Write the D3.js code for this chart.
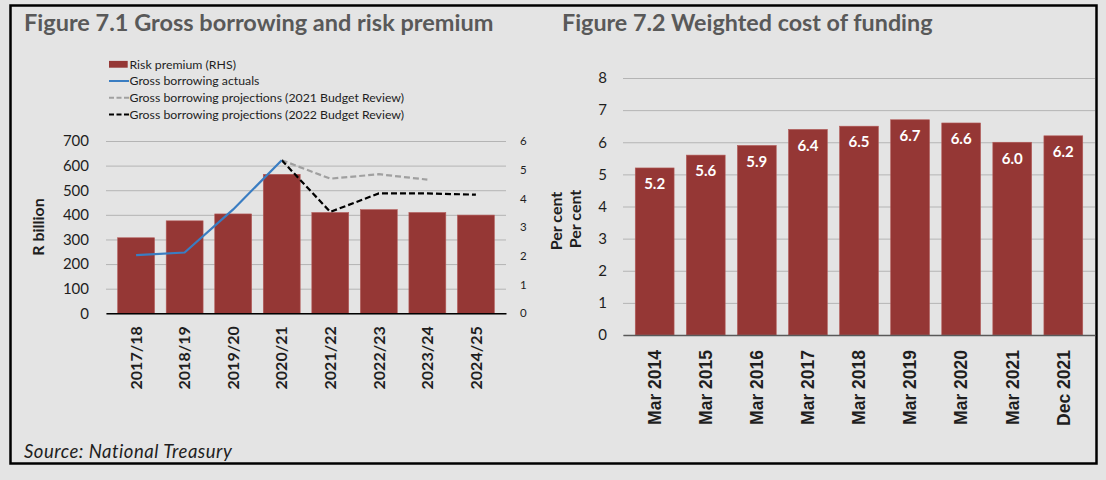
<!DOCTYPE html>
<html>
<head>
<meta charset="utf-8">
<script src="https://cdn.jsdelivr.net/npm/d3@7"></script>
<style>
  body { margin: 0; background: #e4e4e4; }
  svg { display: block; font-family: Lato, 'Open Sans', sans-serif; }
</style>
</head>
<body>
<div class="charts"></div>
<script>
// Figure 7.1 data
const years = ['2017/18', '2018/19', '2019/20', '2020/21', '2021/22', '2022/23', '2023/24', '2024/25'];
const riskPremium = [2.63, 3.22, 3.46, 4.84, 3.51, 3.61, 3.51, 3.42];
const actualYears = ['2017/18', '2018/19', '2019/20', '2020/21'];
const borrowingActuals = [236, 247, 422, 622];
const review2021Years = ['2020/21', '2021/22', '2022/23', '2023/24'];
const borrowing2021Review = [622, 547, 565, 543];
const review2022Years = ['2020/21', '2021/22', '2022/23', '2023/24', '2024/25'];
const borrowing2022Review = [622, 412, 487, 487, 482];
const billionTicks = [0, 100, 200, 300, 400, 500, 600, 700];
const premiumTicks = [0, 1, 2, 3, 4, 5, 6];

// Figure 7.2 data
const fundingDates = ['Mar 2014', 'Mar 2015', 'Mar 2016', 'Mar 2017', 'Mar 2018', 'Mar 2019', 'Mar 2020', 'Mar 2021', 'Dec 2021'];
const fundingCost = [5.2, 5.6, 5.9, 6.4, 6.5, 6.7, 6.6, 6.0, 6.2];
const fundingTicks = [0, 1, 2, 3, 4, 5, 6, 7, 8];

const containerWidth = 1106;
const containerHeight = 480;

const barColor = '#953735';
const gridColor = '#b4b4b4';
const textColor = '#1e1e1e';

const svg = d3
  .select('.charts')
  .append('svg')
  .attr('width', containerWidth)
  .attr('height', containerHeight);

svg
  .append('rect')
  .attr('x', 10.5)
  .attr('y', 5.5)
  .attr('width', 1086)
  .attr('height', 458)
  .attr('fill', 'none')
  .attr('stroke', '#000')
  .attr('stroke-width', 2.5);

// titles
svg
  .append('text')
  .attr('x', 24)
  .attr('y', 31)
  .style('font-size', '23.5px')
  .style('font-weight', '700')
  .attr('fill', '#595959')
  .text('Figure 7.1 Gross borrowing and risk premium');
svg
  .append('text')
  .attr('x', 562)
  .attr('y', 31)
  .style('font-size', '23.3px')
  .style('font-weight', '700')
  .attr('fill', '#595959')
  .text('Figure 7.2 Weighted cost of funding');

svg
  .append('text')
  .attr('x', 24)
  .attr('y', 458)
  .style('font-size', '18.5px')
  .style('font-style', 'italic')
  .style('letter-spacing', '0.5px')
  .attr('fill', textColor)
  .text('Source: National Treasury');

// ---------- Figure 7.1 ----------
const left = { x: 106, y: 141, width: 400, height: 172.3 };

const graph1 = svg
  .append('g')
  .attr('transform', `translate(${left.x}, ${left.y})`);

const xYears = d3.scaleBand().domain(years).range([0, left.width]).padding(0.24);
const yBillion = d3.scaleLinear().domain([0, 700]).range([left.height, 0]);
const yPremium = d3.scaleLinear().domain([0, 6]).range([left.height, 0]);

const billionAxis = d3
  .axisLeft(yBillion)
  .tickValues(billionTicks)
  .tickSize(-left.width)
  .tickPadding(17);

graph1
  .append('g')
  .call(billionAxis)
  .call((g) => g.select('.domain').remove())
  .call((g) => g.selectAll('line').attr('stroke', gridColor))
  .call((g) =>
    g.selectAll('text').attr('fill', textColor).style('font-size', '15px').style('font-family', 'Lato')
  );

graph1
  .append('g')
  .attr('transform', `translate(${left.width}, 0)`)
  .call(
    d3.axisRight(yPremium).tickValues(premiumTicks).tickFormat(d3.format('d')).tickSize(0).tickPadding(14)
  )
  .call((g) => g.select('.domain').remove())
  .call((g) =>
    g.selectAll('text').attr('fill', textColor).style('font-size', '11.5px').style('font-family', 'Lato')
  );

graph1
  .selectAll('.premium-bar')
  .data(riskPremium)
  .enter()
  .append('rect')
  .attr('class', 'premium-bar')
  .attr('x', (d, i) => xYears(years[i]))
  .attr('y', (d) => yPremium(d))
  .attr('width', xYears.bandwidth())
  .attr('height', (d) => left.height - yPremium(d))
  .attr('fill', barColor)
  .attr('stroke', '#b45c5a')
  .attr('stroke-width', 0.6);

const yearCenter = (y) => xYears(y) + xYears.bandwidth() / 2;

const borrowingLine = (yearList) =>
  d3
    .line()
    .x((d, i) => yearCenter(yearList[i]))
    .y((d) => yBillion(d));

graph1
  .append('path')
  .datum(borrowing2021Review)
  .attr('d', borrowingLine(review2021Years))
  .attr('fill', 'none')
  .attr('stroke', '#a0a0a0')
  .attr('stroke-width', 2.2)
  .attr('stroke-dasharray', '6,3');

graph1
  .append('path')
  .datum(borrowing2022Review)
  .attr('d', borrowingLine(review2022Years))
  .attr('fill', 'none')
  .attr('stroke', '#000')
  .attr('stroke-width', 2.2)
  .attr('stroke-dasharray', '6,3');

graph1
  .append('path')
  .datum(borrowingActuals)
  .attr('d', borrowingLine(actualYears))
  .attr('fill', 'none')
  .attr('stroke', '#3a7dc2')
  .attr('stroke-width', 2.2);

graph1
  .append('g')
  .attr('transform', `translate(0, ${left.height})`)
  .call(d3.axisBottom(xYears).tickSize(0).tickSizeOuter(0))
  .call((g) => g.select('.domain').attr('stroke', '#000').attr('stroke-width', 1.5))
  .call((g) =>
    g
      .selectAll('text')
      .attr('transform', 'rotate(-90)')
      .attr('x', -13)
      .attr('y', 0)
      .attr('dy', '0.36em')
      .attr('text-anchor', 'end')
      .attr('fill', textColor)
      .style('font-size', '16px')
      .style('font-weight', '700')
      .style('font-family', 'Lato')
  );

svg
  .append('text')
  .attr('transform', 'translate(38, 227) rotate(-90)')
  .attr('text-anchor', 'middle')
  .attr('dy', '0.35em')
  .style('font-size', '16px')
  .style('font-weight', '700')
  .attr('fill', textColor)
  .text('R billion');
svg
  .append('text')
  .attr('transform', 'translate(556, 221) rotate(-90)')
  .attr('text-anchor', 'middle')
  .attr('dy', '0.35em')
  .style('font-size', '16px')
  .style('font-weight', '700')
  .attr('fill', textColor)
  .text('Per cent');

// legend
const legendItems = [
  { label: 'Risk premium (RHS)', type: 'bar', color: barColor },
  { label: 'Gross borrowing actuals', type: 'line', color: '#3a7dc2' },
  { label: 'Gross borrowing projections (2021 Budget Review)', type: 'dash', color: '#a0a0a0' },
  { label: 'Gross borrowing projections (2022 Budget Review)', type: 'dash', color: '#000' },
];

const legend = svg
  .append('g')
  .attr('transform', 'translate(109, 64.3)');

legendItems.forEach((item, i) => {
  const row = legend.append('g').attr('transform', `translate(0, ${i * 16.7})`);
  if (item.type === 'bar') {
    row.append('rect').attr('x', 0).attr('y', -3.4).attr('width', 18.7).attr('height', 6.8).attr('fill', item.color);
  } else {
    row
      .append('line')
      .attr('x1', 0)
      .attr('x2', 20)
      .attr('y1', 0)
      .attr('y2', 0)
      .attr('stroke', item.color)
      .attr('stroke-width', 2)
      .attr('stroke-dasharray', item.type === 'dash' ? '5,2.5' : null);
  }
  row
    .append('text')
    .attr('x', 20.5)
    .attr('y', 0)
    .attr('dy', '0.36em')
    .style('font-size', '12.3px')
    .attr('fill', textColor)
    .text(item.label);
});

// ---------- Figure 7.2 ----------
const right = { x: 623, y: 78, width: 472, height: 257 };

const graph2 = svg
  .append('g')
  .attr('transform', `translate(${right.x}, ${right.y})`);

const xDates = d3.scaleBand().domain(fundingDates).range([0, right.width]).padding(0.24);
const yFunding = d3.scaleLinear().domain([0, 8]).range([right.height, 0]);

graph2
  .append('g')
  .call(d3.axisLeft(yFunding).tickValues(fundingTicks).tickSize(-right.width).tickPadding(16))
  .call((g) => g.select('.domain').remove())
  .call((g) => g.selectAll('line').attr('stroke', gridColor))
  .call((g) =>
    g.selectAll('text').attr('fill', textColor).style('font-size', '15px').style('font-family', 'Lato')
  );

graph2
  .selectAll('.funding-bar')
  .data(fundingCost)
  .enter()
  .append('rect')
  .attr('class', 'funding-bar')
  .attr('x', (d, i) => xDates(fundingDates[i]))
  .attr('y', (d) => yFunding(d))
  .attr('width', xDates.bandwidth())
  .attr('height', (d) => right.height - yFunding(d))
  .attr('fill', barColor)
  .attr('stroke', '#b45c5a')
  .attr('stroke-width', 0.6);

graph2
  .selectAll('.funding-label')
  .data(fundingCost)
  .enter()
  .append('text')
  .attr('class', 'funding-label')
  .attr('x', (d, i) => xDates(fundingDates[i]) + xDates.bandwidth() / 2)
  .attr('y', (d) => yFunding(d) + 16)
  .attr('dy', '0.35em')
  .attr('text-anchor', 'middle')
  .attr('fill', '#fff')
  .style('font-size', '15px')
  .style('font-weight', '700')
  .text((d) => d.toFixed(1));

graph2
  .append('g')
  .attr('transform', `translate(0, ${right.height})`)
  .call(d3.axisBottom(xDates).tickSize(0).tickSizeOuter(0))
  .call((g) => g.select('.domain').attr('stroke', '#595959').attr('stroke-width', 1.5))
  .call((g) =>
    g
      .selectAll('text')
      .attr('transform', 'rotate(-90)')
      .attr('x', -15)
      .attr('y', 0)
      .attr('dy', '0.36em')
      .attr('text-anchor', 'end')
      .attr('fill', textColor)
      .style('font-size', '17.5px')
      .style('font-weight', '700')
      .style('font-family', '"Liberation Sans", Arial, sans-serif')
  );

svg
  .append('text')
  .attr('transform', 'translate(575, 219) rotate(-90)')
  .attr('text-anchor', 'middle')
  .attr('dy', '0.35em')
  .style('font-size', '16px')
  .style('font-weight', '700')
  .attr('fill', textColor)
  .text('Per cent');
</script>
</body>
</html>
